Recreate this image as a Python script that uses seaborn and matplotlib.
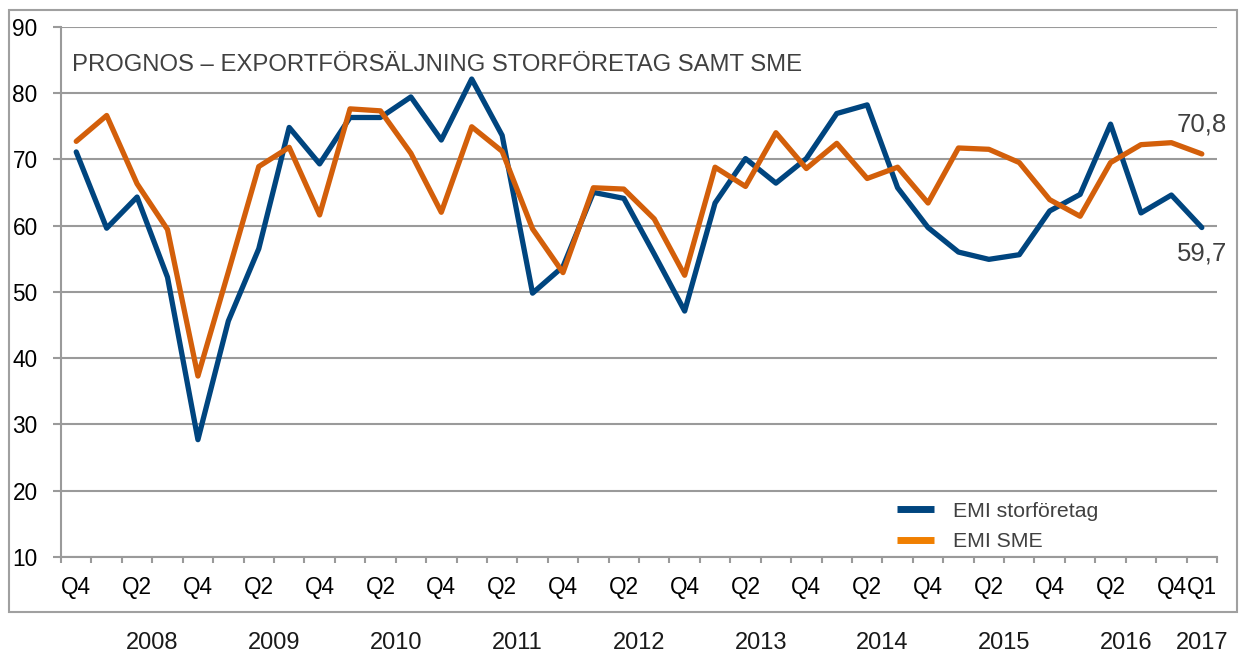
import seaborn as sns
import pandas as pd
import numpy as np
import matplotlib.pyplot as plt
from matplotlib.lines import Line2D
from matplotlib.patches import Rectangle
from matplotlib.ticker import FixedLocator

# quarters 2007 Q4 .. 2017 Q1
years = ["2008", "2009", "2010", "2011", "2012", "2013", "2014", "2015", "2016", "2017"]
quarters = ["Q4"] + ["Q1", "Q2", "Q3", "Q4"] * 9 + ["Q1"]
quarter_year = ["2007"] + [y for y in years[:-1] for _ in range(4)] + ["2017"]

emi_stor = [71.1, 59.6, 64.3, 52.2, 27.7, 45.6, 56.5, 74.8, 69.3, 76.3, 76.3, 79.4,
            72.9, 82.1, 73.6, 49.8, 53.8, 65.0, 64.1, 55.7, 47.1, 63.4, 70.1, 66.4,
            70.1, 76.9, 78.2, 65.7, 59.7, 56.0, 54.9, 55.6, 62.2, 64.7, 75.3, 61.9,
            64.6, 59.7]
emi_sme = [72.7, 76.6, 66.3, 59.4, 37.3, 53.0, 68.9, 71.8, 61.6, 77.6, 77.3, 70.9,
           62.0, 74.9, 71.2, 59.5, 52.9, 65.7, 65.5, 61.0, 52.5, 68.8, 65.9, 74.0,
           68.6, 72.4, 67.1, 68.8, 63.4, 71.7, 71.5, 69.5, 63.9, 61.4, 69.5, 72.2,
           72.5, 70.8]

names = ["EMI storföretag", "EMI SME"]
line_colors = {"EMI storföretag": "#00457f", "EMI SME": "#d35f0a"}
legend_colors = ["#00457f", "#f07f00"]
title = "PROGNOS – EXPORTFÖRSÄLJNING STORFÖRETAG SAMT SME"

n = len(quarters)
df = pd.DataFrame({
    "pos": list(range(n)) * 2,
    "value": emi_stor + emi_sme,
    "serie": [names[0]] * n + [names[1]] * n,
})

sns.set_style("white")
plt.rcParams['font.family'] = ['Liberation Sans', 'DejaVu Sans']

fig = plt.figure(figsize=(12.43, 6.52), dpi=100)
ax = fig.add_axes([0.0491, 0.1457, 0.9300, 0.8134])

grey = "#9a9a9a"
sns.lineplot(data=df, x="pos", y="value", hue="serie", hue_order=names,
             palette=line_colors, linewidth=3.8, legend=False, ax=ax,
             solid_joinstyle="round", solid_capstyle="round")

ax.set_xlim(-0.5, n - 0.5)
ax.set_ylim(10, 90)
ax.set_yticks(range(10, 91, 10))
ax.grid(axis="y", color=grey, linewidth=1.5)
ax.set_axisbelow(True)

for s in ["top", "right"]:
    ax.spines[s].set_visible(False)
for s in ["left", "bottom"]:
    ax.spines[s].set_color(grey)
    ax.spines[s].set_linewidth(1.5)

# boundary ticks between quarters, labels every other quarter
ax.xaxis.set_major_locator(FixedLocator(np.arange(-0.5, n, 1.0)))
ax.set_xticklabels([])
label_pos = list(range(0, n - 1, 2)) + [n - 1]
ax.xaxis.set_minor_locator(FixedLocator(label_pos))
ax.set_xticklabels([quarters[i] for i in label_pos], minor=True)
ax.tick_params(axis="x", which="major", direction="out", length=4.3, width=1.5,
               color=grey, bottom=True)
ax.tick_params(axis="x", which="minor", length=0, pad=14, labelsize=16.3,
               labelcolor="black", bottom=True)
ax.tick_params(axis="y", direction="out", length=5.8, width=1.5, color=grey,
               pad=11, labelsize=16.3, labelcolor="black", left=True)
ax.set_xlabel("")
ax.set_ylabel("")

# year labels centred under their quarters
for y in years:
    idx = [i for i, qy in enumerate(quarter_year) if qy == y]
    ax.text(np.mean(idx), -0.162, y, transform=ax.get_xaxis_transform(),
            ha="center", va="center", fontsize=17, color="#1a1a1a")

ax.text(0.0095, 0.927, title, transform=ax.transAxes, ha="left", va="center",
        fontsize=17.2, color="#404040")

ax.annotate(f"{emi_sme[-1]:.1f}".replace(".", ","), (n - 1, emi_sme[-1]),
            xytext=(0, 21), textcoords="offset points", ha="center", va="center",
            fontsize=18.5, color="#404040")
ax.annotate(f"{emi_stor[-1]:.1f}".replace(".", ","), (n - 1, emi_stor[-1]),
            xytext=(0, -18.4), textcoords="offset points", ha="center", va="center",
            fontsize=18.5, color="#404040")

handles = [Line2D([0], [0], color=c, linewidth=5, solid_capstyle="butt")
           for c in legend_colors]
ax.legend(handles, names, loc="upper left", bbox_to_anchor=(0.7232, 0.1046),
          frameon=False, fontsize=15.3, handlelength=1.74, handletextpad=0.9,
          labelspacing=0.54, borderpad=0, borderaxespad=0, labelcolor="#404040")

fig.patches.append(Rectangle((0.0072, 0.0613), 0.988, 0.923, transform=fig.transFigure,
                             fill=False, edgecolor="#a0a0a0", linewidth=1.5))

plt.savefig("out.png", dpi=100)
plt.close("all")
